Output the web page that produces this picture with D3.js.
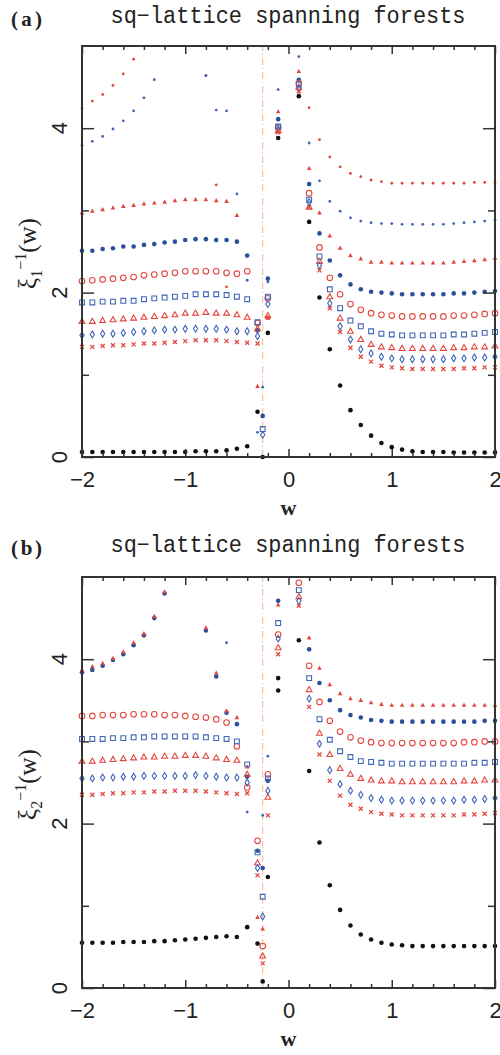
<!DOCTYPE html>
<html>
<head>
<meta charset="utf-8">
<script src="https://cdn.jsdelivr.net/npm/d3@7"></script>
<style>
  body { margin: 0; background: #fff; }
</style>
</head>
<body>
<div id="chart"></div>
<script>
// w grid shared by every series (no point at w = 0)
var wGrid = [-2,-1.9,-1.8,-1.7,-1.6,-1.5,-1.4,-1.3,-1.2,-1.1,-1,-0.9,-0.8,-0.7,-0.6,-0.5,-0.4,
  -0.3,-0.25,-0.2,-0.1,
  0.1,0.2,0.3,0.4,0.5,0.6,0.7,0.8,0.9,1,1.1,1.2,1.3,1.4,1.5,1.6,1.7,1.8,1.9,2];
var wCrit = -0.25;

var xMajor = [-2, -1, 0, 1, 2];
var xMinor = [-1.8,-1.6,-1.4,-1.2,-0.8,-0.6,-0.4,-0.2,0.2,0.4,0.6,0.8,1.2,1.4,1.6,1.8];
var yMajor = [0, 2, 4];
var yMinor = [1, 3];

// ---- panel (a) : xi_1^{-1}(w)
var aBlack = [0.06,0.06,0.06,0.06,0.06,0.06,0.06,0.06,0.06,0.06,0.06,0.07,0.07,0.07,0.08,0.10,0.13,
  0.55,0.0,1.51,3.88,
  4.39,2.86,1.94,1.31,0.87,0.57,0.39,0.26,0.17,0.12,0.09,0.07,0.06,0.06,0.06,0.055,0.055,0.055,0.055,0.055];
var aCross = [1.34,1.34,1.35,1.36,1.36,1.37,1.38,1.38,1.39,1.40,1.41,1.42,1.42,1.42,1.41,1.40,1.39,
  1.38,null,1.70,3.95,
  4.45,3.04,2.27,1.81,1.52,1.33,1.22,1.16,1.11,1.09,1.08,1.07,1.07,1.07,1.07,1.07,1.08,1.08,1.09,1.09];
var aDiamond = [1.48,1.49,1.50,1.50,1.51,1.52,1.53,1.54,1.55,1.55,1.56,1.56,1.56,1.56,1.55,1.53,1.53,
  1.47,0.27,1.86,3.99,
  4.48,3.10,2.33,1.87,1.59,1.43,1.31,1.26,1.22,1.20,1.19,1.19,1.19,1.19,1.19,1.20,1.20,1.21,1.21,1.22];
var aTri = [1.65,1.65,1.66,1.67,1.68,1.69,1.70,1.71,1.72,1.73,1.75,1.75,1.76,1.75,1.75,1.73,1.70,
  1.56,null,1.72,3.97,
  4.50,3.04,2.38,1.95,1.69,1.53,1.43,1.37,1.34,1.33,1.32,1.32,1.32,1.32,1.32,1.33,1.33,1.34,1.34,1.35];
var aSquare = [1.88,1.88,1.89,1.89,1.90,1.90,1.92,1.93,1.94,1.95,1.96,1.98,1.98,1.98,1.97,1.95,1.92,
  1.64,0.34,1.95,4.02,
  4.53,3.13,2.44,2.04,1.81,1.66,1.59,1.53,1.50,1.49,1.48,1.48,1.48,1.48,1.48,1.49,1.49,1.50,1.51,1.52];
var aCircle = [2.14,2.15,2.16,2.17,2.18,2.19,2.21,2.22,2.23,2.24,2.26,2.26,2.26,2.26,2.24,2.23,2.26,
  1.63,null,1.93,4.01,
  4.55,3.21,2.55,2.18,1.98,1.86,1.79,1.75,1.73,1.72,1.71,1.71,1.71,1.71,1.71,1.72,1.72,1.73,1.74,1.75];
var aBlueFill = [2.51,2.51,2.53,2.54,2.56,2.56,2.58,2.59,2.61,2.62,2.64,2.65,2.65,2.64,2.64,2.62,2.45,
  1.54,0.50,2.17,4.11,
  4.59,3.32,2.72,2.39,2.21,2.10,2.04,2.01,2.00,1.99,1.98,1.98,1.98,1.98,1.98,1.99,1.99,2.00,2.01,2.02];
var aRedFill = [2.97,2.99,3.01,3.03,3.05,3.06,3.08,3.09,3.10,3.12,3.13,3.13,3.13,3.12,3.11,2.94,null,
  0.86,null,1.69,4.20,
  4.69,3.51,2.97,2.69,2.54,2.45,2.41,2.37,2.37,2.36,2.36,2.36,2.36,2.36,2.36,2.37,2.38,2.39,2.40,2.42];
var aBlueSmall = [3.79,3.84,3.90,3.99,4.09,4.21,4.37,4.59,null,null,null,null,4.64,4.22,4.21,3.20,2.15,
  0.30,0.85,2.13,4.47,
  4.87,3.82,3.36,3.11,2.99,2.91,2.87,2.85,2.84,2.84,2.83,2.83,2.83,2.83,2.83,2.84,2.85,2.86,2.87,2.88];
var aRedSmall = [4.24,4.33,4.41,4.52,4.66,4.84,null,null,null,null,null,null,4.64,3.31,2.07,null,null,
  null,null,null,null,
  null,4.25,3.86,3.65,3.53,3.45,3.41,3.37,3.35,3.33,3.33,3.33,3.33,3.33,3.33,3.33,3.33,3.34,3.34,3.34];

// ---- panel (b) : xi_2^{-1}(w)
var bBlack = [0.55,0.55,0.55,0.55,0.56,0.56,0.56,0.57,0.57,0.58,0.59,0.60,0.61,0.62,0.63,0.62,0.74,
  0.54,0.08,1.35,3.62,
  4.23,2.64,1.77,1.25,0.95,0.76,0.65,0.59,0.55,0.53,0.52,0.51,0.51,0.51,0.51,0.51,0.51,0.51,0.51,0.51];
var bCross = [2.35,2.35,2.36,2.37,2.37,2.38,2.38,2.39,2.39,2.40,2.40,2.40,2.39,2.38,2.37,2.36,2.37,
  1.37,0.30,2.10,4.06,
  4.65,3.42,2.84,2.52,2.34,2.23,2.18,2.14,2.12,2.11,2.10,2.10,2.10,2.10,2.10,2.10,2.11,2.11,2.12,2.13];
var bDiamond = [2.55,2.55,2.56,2.56,2.57,2.57,2.58,2.58,2.58,2.58,2.58,2.59,2.58,2.57,2.56,2.56,2.50,
  1.46,0.87,2.40,4.25,
  4.71,3.52,2.97,2.65,2.48,2.40,2.35,2.31,2.29,2.28,2.28,2.28,2.28,2.28,2.28,2.28,2.29,2.29,2.30,2.31];
var bTri = [2.76,2.76,2.77,2.78,2.79,2.80,2.81,2.81,2.82,2.82,2.83,2.83,2.82,2.80,2.78,2.77,2.60,
  1.52,0.39,2.32,4.14,
  4.76,3.63,3.10,2.84,2.67,2.60,2.55,2.53,2.52,2.52,2.51,2.51,2.51,2.51,2.51,2.51,2.52,2.52,2.53,2.53];
var bSquare = [3.03,3.03,3.03,3.04,3.04,3.05,3.05,3.06,3.06,3.06,3.06,3.06,3.05,3.04,3.03,3.00,2.72,
  1.65,1.11,2.55,4.44,
  4.84,3.77,3.27,3.02,2.88,2.81,2.76,2.75,2.74,2.73,2.73,2.73,2.73,2.73,2.73,2.73,2.73,2.74,2.74,2.75];
var bCircle = [3.31,3.31,3.32,3.32,3.32,3.33,3.33,3.33,3.32,3.32,3.31,3.30,3.29,3.27,3.23,2.94,2.44,
  1.79,0.51,2.60,4.30,
  4.93,3.92,3.48,3.25,3.12,3.05,3.01,2.99,2.98,2.98,2.98,2.98,2.98,2.98,2.98,2.98,2.99,2.99,3.00,3.00];
var bBlueFill = [3.84,3.87,3.92,3.99,4.06,4.17,4.29,4.50,4.80,null,null,null,4.35,3.79,3.35,3.21,2.57,
  1.67,1.46,2.52,4.71,
  null,4.12,3.71,3.50,3.38,3.32,3.29,3.26,3.25,3.24,3.24,3.24,3.24,3.24,3.24,3.24,3.24,3.24,3.25,3.25];
var bRedFill = [3.87,3.91,3.95,4.01,4.09,4.20,4.31,4.52,4.82,null,null,null,4.38,3.83,3.37,3.29,2.69,
  0.86,0.72,null,4.66,
  null,4.26,3.89,3.69,3.58,3.52,3.50,3.47,3.45,3.44,3.44,3.44,3.44,3.44,3.44,3.44,3.44,3.44,3.44,3.44];
var bBlueSmallW = [-0.6, -0.4, -0.25, -0.2];
var bBlueSmall = [4.20, 2.14, 2.10, 2.82];
var bBlack2W = [-0.1];
var bBlack2 = [3.77];

var red = "#e4463e", blue = "#3f66b6", navy = "#2a4f9c", black = "#111";

var shapes = {
  cross: "M-2,-2L2,2M-2,2L2,-2",
  tri: "M0,-3.1L2.9,2L-2.9,2Z",
  ftri: "M0,-2.6L2.3,1.6L-2.3,1.6Z",
  square: "M-2.4,-2.4H2.4V2.4H-2.4Z",
  diamond: "M0,-3.4L2.1,0L0,3.4L-2.1,0Z"
};

var svg = d3.select("#chart")
  .append("svg")
  .attr("width", 500)
  .attr("height", 1055)
  .style("background", "#fff");

function drawMarks(g, ws, vs, mark, color, x, y) {
  var pts = ws.map(function(w, i) { return [w, vs[i]]; })
    .filter(function(d) { return d[1] !== null; });
  var sel = g.append("g").selectAll("x").data(pts).enter();
  if (mark == "dot" || mark == "sdot" || mark == "circle") {
    var c = sel.append("circle")
      .attr("cx", function(d) { return x(d[0]); })
      .attr("cy", function(d) { return y(d[1]); })
      .attr("r", mark == "dot" ? 2.3 : (mark == "sdot" ? 1.4 : 2.8));
    if (mark == "circle") c.attr("fill", "none").attr("stroke", color).attr("stroke-width", 1.1);
    else c.attr("fill", color);
  } else {
    var p = sel.append("path")
      .attr("d", shapes[mark])
      .attr("transform", function(d) { return "translate(" + x(d[0]) + "," + y(d[1]) + ")"; });
    if (mark == "ftri") p.attr("fill", color);
    else p.attr("fill", "none").attr("stroke", color).attr("stroke-width", mark == "cross" ? 1.3 : 1.1);
  }
}

function fmt(d) { return d < 0 ? "\u2212" + (-d) : "" + d; }

function styleAxis(ax) {
  ax.select(".domain").remove();
  ax.selectAll("line").attr("stroke", "#333").attr("stroke-width", 1.5);
  ax.attr("font-family", "'Liberation Sans', Arial, sans-serif").attr("font-size", 22);
  ax.selectAll("text").attr("fill", "#222");
}

function drawPanel(p) {
  var x = d3.scaleLinear().domain([-2, 2]).range([82, 495]);
  var y = d3.scaleLinear().domain([0, 5]).range([p.bottom, p.top]);
  var g = svg.append("g");

  // critical point line
  g.append("line")
    .attr("x1", x(wCrit)).attr("x2", x(wCrit))
    .attr("y1", y(0)).attr("y2", y(5))
    .attr("stroke", "#f5b78c")
    .attr("stroke-width", 1)
    .attr("stroke-dasharray", "7,3,1,3");

  p.series.forEach(function(s) {
    drawMarks(g, s.w || wGrid, s.v, s.mark, s.color, x, y);
  });

  // frame
  g.append("rect")
    .attr("x", 82).attr("y", p.top)
    .attr("width", 413).attr("height", p.bottom - p.top)
    .attr("fill", "none").attr("stroke", "#333").attr("stroke-width", 2);

  // ticks on all four sides, pointing inward
  styleAxis(g.append("g").attr("transform", "translate(0," + p.bottom + ")")
    .call(d3.axisBottom(x).tickValues(xMajor).tickSize(-8).tickPadding(14).tickFormat(fmt)));
  styleAxis(g.append("g").attr("transform", "translate(0," + p.bottom + ")")
    .call(d3.axisBottom(x).tickValues(xMinor).tickSize(-4).tickFormat("")));
  styleAxis(g.append("g").attr("transform", "translate(0," + p.top + ")")
    .call(d3.axisTop(x).tickValues(xMajor).tickSize(-8).tickFormat("")));
  styleAxis(g.append("g").attr("transform", "translate(0," + p.top + ")")
    .call(d3.axisTop(x).tickValues(xMinor).tickSize(-4).tickFormat("")));
  styleAxis(g.append("g").attr("transform", "translate(82,0)")
    .call(d3.axisLeft(y).tickValues(yMajor).tickSize(-12).tickFormat("")));
  styleAxis(g.append("g").attr("transform", "translate(82,0)")
    .call(d3.axisLeft(y).tickValues(yMinor).tickSize(-7).tickFormat("")));
  styleAxis(g.append("g").attr("transform", "translate(495,0)")
    .call(d3.axisRight(y).tickValues(yMajor).tickSize(-12).tickFormat("")));
  styleAxis(g.append("g").attr("transform", "translate(495,0)")
    .call(d3.axisRight(y).tickValues(yMinor).tickSize(-7).tickFormat("")));

  // rotated y tick labels
  g.selectAll(".ylab").data(yMajor).enter()
    .append("text")
    .attr("transform", function(d) { return "translate(67," + y(d) + ") rotate(-90)"; })
    .attr("text-anchor", "middle")
    .attr("font-family", "'Liberation Sans', Arial, sans-serif")
    .attr("font-size", 22)
    .attr("fill", "#222")
    .text(fmt);

  // y axis title
  var yt = g.append("text")
    .attr("transform", "translate(36," + ((p.top + p.bottom) / 2 + 2) + ") rotate(-90)")
    .attr("text-anchor", "middle")
    .attr("font-family", "'Liberation Serif', 'Times New Roman', serif")
    .attr("font-size", 25)
    .attr("fill", "#222");
  yt.append("tspan").text("\u03be");
  yt.append("tspan").attr("font-size", 16).attr("dy", 6).text(p.sub);
  yt.append("tspan").attr("font-size", 16).attr("dy", -16).text("\u22121");
  yt.append("tspan").attr("dy", 10).text("(w)");

  // x axis title
  g.append("text")
    .attr("x", x(0)).attr("y", p.bottom + 58)
    .attr("text-anchor", "middle")
    .attr("font-family", "'Liberation Serif', 'Times New Roman', serif")
    .attr("font-weight", "bold")
    .attr("font-size", 22)
    .attr("fill", "#222")
    .text("w");

  // panel title and letter
  g.append("text")
    .attr("x", 288).attr("y", p.titleY)
    .attr("text-anchor", "middle")
    .attr("font-family", "'Liberation Mono', 'Courier New', monospace")
    .attr("font-size", 23)
    .attr("textLength", 355)
    .attr("lengthAdjust", "spacingAndGlyphs")
    .attr("fill", "#222")
    .text("sq\u2212lattice spanning forests");
  g.append("text")
    .attr("x", 11).attr("y", p.titleY + 3)
    .attr("font-family", "'Liberation Serif', 'Times New Roman', serif")
    .attr("font-weight", "bold")
    .attr("font-size", 21)
    .attr("textLength", 31)
    .attr("fill", "#222")
    .text(p.letter);
}

drawPanel({
  top: 46, bottom: 457, titleY: 23, letter: "(a)", sub: "1",
  series: [
    { v: aRedSmall, mark: "sdot", color: red },
    { v: aBlueSmall, mark: "sdot", color: blue },
    { v: aRedFill, mark: "ftri", color: red },
    { v: aBlueFill, mark: "dot", color: navy },
    { v: aCircle, mark: "circle", color: red },
    { v: aSquare, mark: "square", color: blue },
    { v: aTri, mark: "tri", color: red },
    { v: aDiamond, mark: "diamond", color: blue },
    { v: aCross, mark: "cross", color: red },
    { v: aBlack, mark: "dot", color: black }
  ]
});

drawPanel({
  top: 577, bottom: 988, titleY: 552, letter: "(b)", sub: "2",
  series: [
    { w: bBlueSmallW, v: bBlueSmall, mark: "sdot", color: blue },
    { v: bBlueFill, mark: "dot", color: navy },
    { v: bRedFill, mark: "ftri", color: red },
    { v: bCircle, mark: "circle", color: red },
    { v: bSquare, mark: "square", color: blue },
    { v: bTri, mark: "tri", color: red },
    { v: bDiamond, mark: "diamond", color: blue },
    { v: bCross, mark: "cross", color: red },
    { v: bBlack, mark: "dot", color: black },
    { w: bBlack2W, v: bBlack2, mark: "dot", color: black }
  ]
});
</script>
</body>
</html>
